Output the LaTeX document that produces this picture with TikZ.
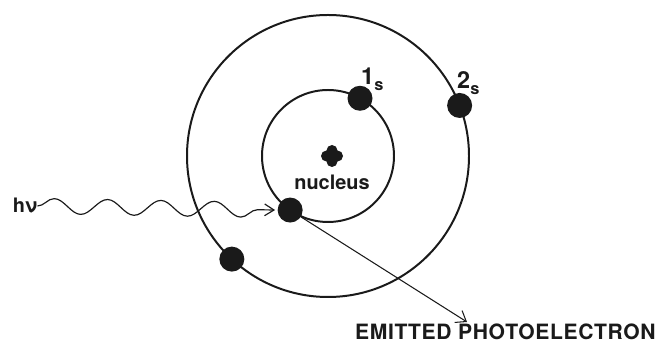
\documentclass[tikz,border=0pt]{standalone}
\usepackage{fontspec}
\setmainfont{TeX Gyre Heros}
\usepackage{tikz}
\usetikzlibrary{arrows.meta,positioning,calc,decorations.pathmorphing}
\definecolor{ink}{HTML}{1A1A1A}
\newcommand{\orb}[1]{{\fontsize{20}{22}\selectfont #1}\raisebox{-0.55ex}{\fontsize{14}{15}\selectfont s}}
\tikzset{
  orbit/.style={draw=ink, line width=1.7pt},
  electron/.style={
    circle, fill=ink, inner sep=0pt, minimum size=0.75cm
  },
  tag/.style={text=ink, inner sep=0pt, font=\fontsize{17}{20}\selectfont\bfseries},
  photon/.style={
    draw=ink, line width=1pt,
    decorate, decoration={snake, segment length=1.6cm, amplitude=0.23cm,
      pre length=0pt, post length=0.3cm},
    -{Straight Barb[length=8pt, width=10pt, line width=1pt]}
  },
  ejected/.style={
    draw=ink, line width=0.9pt,
    -{Straight Barb[length=8pt, width=12pt, line width=0.9pt]}
  }
}

\begin{document}
\begin{tikzpicture}[x=0.03cm, y=0.03cm]
  \useasboundingbox (0,0) rectangle (664,343);
  \coordinate (nuc) at (328,187);

  % the two shells
  \draw[orbit] (nuc) circle [radius=141];
  \draw[orbit] (nuc) circle [radius=66];

  % nucleus blob
  \fill[ink] (332,187) circle [radius=5.5]
    (332,192.5) circle [radius=5.5] (332,181.5) circle [radius=5.5]
    (326.5,187) circle [radius=5.5] (337.5,187) circle [radius=5.5];
  \node[tag] (nucl) at (332,161) {nucleus};

  % electrons
  \node[electron] (e1s) at ($(nuc)+(61:66)$) {};
  \node[electron] (ein) at ($(nuc)+(235:66)$) {};
  \node[electron] (e2s) at ($(nuc)+(21:141)$) {};
  \node[electron] (eout) at ($(nuc)+(227:141)$) {};
  \node[tag, anchor=south west] (l1s) at (361,252) {\orb{1}};
  \node[tag, anchor=south west] (l2s) at (457,248) {\orb{2}};

  % incoming photon and the electron it knocks out
  \node[tag] (hnu) at (25,137) {hν};
  \draw[photon, shorten >=2pt] (hnu.east) -- (ein.west);
  \coordinate (out) at (467,21);
  \draw[ejected] (ein) -- (out);
  \node[tag, anchor=base west, font=\fontsize{18}{20}\selectfont\bfseries] (emit) at (355,3)
    {\addfontfeature{LetterSpace=3}EMITTED PHOTOELECTRON};
\end{tikzpicture}
\end{document}
